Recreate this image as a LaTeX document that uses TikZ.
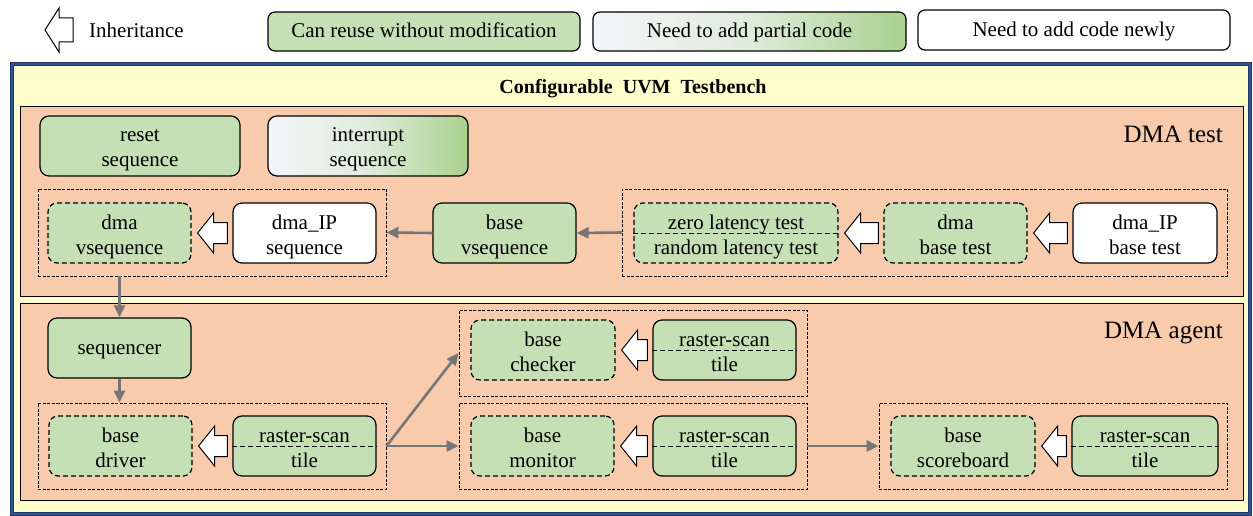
\documentclass[tikz,border=0pt]{standalone}
\usepackage{fontspec}
\setmainfont{Liberation Serif}
\usetikzlibrary{arrows.meta,calc}
\definecolor{cgreen}{HTML}{C5E0B4}
\definecolor{cgreendk}{HTML}{A9D18E}
\definecolor{cpale}{HTML}{F3F6FA}
\definecolor{cpeach}{HTML}{F8CBAD}
\definecolor{cyellow}{HTML}{FFFFCC}
\definecolor{cnavy}{HTML}{1F3864}
\definecolor{cblue}{HTML}{2F5597}
\definecolor{cgray}{HTML}{767676}
\begin{document}
\begin{tikzpicture}[x=1pt,y=-1pt,
  txt/.style={font=\fontsize{21}{25}\selectfont, align=center},
  box/.style={txt, rectangle, rounded corners=9pt, draw=black, line width=1.2pt, inner sep=0pt,
     minimum width=143pt, minimum height=60pt, text height=42pt, text depth=0pt},
  oneline/.style={text height=13pt, text depth=0pt},
  reuse/.style={box, fill=cgreen},
  partial/.style={box, left color=cpale, right color=cgreendk, middle color=cgreen!45!cpale},
  newcode/.style={box, fill=white},
  dbox/.style={box, fill=cgreen, dash pattern=on 5pt off 3pt},
  group/.style={rectangle, draw=black, line width=0.9pt, dash pattern=on 3pt off 1.5pt, inner sep=0pt},
  section/.style={rectangle, draw=black, line width=1pt, fill=cpeach, inner sep=0pt},
  conn/.style={draw=cgray, line width=2.6pt, -{Triangle[length=12pt,width=11pt]}, shorten >=0pt},
  hollow/.style={draw=black, line width=1pt, fill=white, line join=miter},
  divider/.style={draw=black, line width=1pt, dash pattern=on 5pt off 3pt},
  sectlabel/.style={font=\fontsize{25}{28}\selectfont, anchor=east, inner sep=0pt}
]
\useasboundingbox (0,0) rectangle (1253,516);
\newcommand\inh[2]{%
  \draw[hollow] ($(#2.east)+(6,0)$) -- ++(16,-20) -- ++(0,9.5) -- ($(#1.west)+(-5,-10.5)$)
    -- ++(0,21) -- ($(#2.east)+(22,10.5)$) -- ++(0,9.5) -- cycle;}

% legend
\coordinate (legtip) at (45,30);
\draw[hollow] (legtip) -- ++(14,-22) -- ++(0,10) -- ++(14,0) -- ++(0,24) -- ++(-14,0) -- ++(0,10) -- cycle;
\node[txt, anchor=west, inner sep=0pt] (leginh) at (89,30) {Inheritance};
\node[reuse, oneline, minimum width=312pt, minimum height=39pt, rounded corners=7pt] (leg1) at (424,31.5) {Can reuse without modification};
\node[partial, oneline, minimum width=313pt, minimum height=39pt, rounded corners=7pt] (leg2) at (749.5,31.5) {Need to add partial code};
\node[newcode, oneline, minimum width=312pt, minimum height=40pt, rounded corners=7pt] (leg3) at (1074,30) {Need to add code newly};

% outer testbench
\node[rectangle, draw=cnavy, double=cblue, double distance=1.2pt, line width=1.6pt, fill=cyellow,
      minimum width=1238pt, minimum height=450pt, inner sep=0pt] (tb) at (631,289) {};
\node[font=\fontsize{20}{24}\selectfont\bfseries] (title) at (633,89) {Configurable\ \ UVM\ \ Testbench};

% sections
\node[section, minimum width=1223pt, minimum height=189pt] (testsec) at (631.5,201.5) {};
\node[section, minimum width=1223pt, minimum height=197pt] (agentsec) at (631.5,401.5) {};
\node[sectlabel] (testlbl) at (1223,134) {DMA test};
\node[sectlabel] (agentlbl) at (1223,333) {DMA agent};

% groups
\node[group, minimum width=348pt, minimum height=87pt] (g1) at (212,232.5) {};
\node[group, minimum width=605pt, minimum height=87pt] (g2) at (924.5,232.5) {};
\node[group, minimum width=348pt, minimum height=86pt] (g3) at (212,446) {};
\node[group, minimum width=348pt, minimum height=86pt] (g4) at (633,353) {};
\node[group, minimum width=348pt, minimum height=86pt] (g5) at (633,446) {};
\node[group, minimum width=348pt, minimum height=86pt] (g6) at (1053,446) {};

% DMA test nodes
\node[reuse, minimum width=200pt] (reset) at (140,146) {reset\\sequence};
\node[partial, minimum width=200pt] (intr) at (368,146) {interrupt\\sequence};
\node[dbox] (dmavseq) at (119.5,233) {dma\\vsequence};
\node[newcode] (dmaipseq) at (304.5,233) {dma\_IP\\sequence};
\node[reuse] (basevseq) at (504.5,233) {base\\vsequence};
\node[dbox, minimum width=204pt] (lat) at (736,233) {zero latency test\\random latency test};
\draw[divider] (lat.west) -- (lat.east);
\node[dbox] (dmabase) at (955.5,233) {dma\\base test};
\node[newcode, minimum width=144pt] (dmaipbase) at (1145,233) {dma\_IP\\base test};

% DMA agent nodes
\node[reuse, oneline] (seqr) at (119.5,348) {sequencer};
\node[dbox] (driver) at (120.5,446) {base\\driver};
\node[reuse] (rs1) at (304.5,446) {raster-scan\\tile};
\draw[divider] (rs1.west) -- (rs1.east);
\node[dbox, minimum width=144pt] (checker) at (543,350) {base\\checker};
\node[reuse] (rs2) at (724.5,350) {raster-scan\\tile};
\draw[divider] (rs2.west) -- (rs2.east);
\node[dbox] (monitor) at (542.5,446) {base\\monitor};
\node[reuse] (rs3) at (724.5,446) {raster-scan\\tile};
\draw[divider] (rs3.west) -- (rs3.east);
\node[dbox, minimum width=144pt] (score) at (963,446) {base\\scoreboard};
\node[reuse, minimum width=146pt] (rs4) at (1145,446) {raster-scan\\tile};
\draw[divider] (rs4.west) -- (rs4.east);

% inheritance arrows
\inh{dmaipseq}{dmavseq}
\inh{dmabase}{lat}
\inh{dmaipbase}{dmabase}
\inh{rs1}{driver}
\inh{rs2}{checker}
\inh{rs3}{monitor}
\inh{rs4}{score}

% connectors
\draw[conn] (basevseq.west) -- (g1.east);
\draw[conn] (g2.west) -- (basevseq.east);
\draw[conn] (g1.south -| seqr) -- (seqr.north);
\draw[conn] (seqr.south) -- (g3.north -| seqr);
\coordinate (split) at (g3.east);
\draw[conn] (split) -- (g4.west);
\draw[conn] (split) -- (g5.west);
\draw[conn] (g5.east) -- (g6.west);
\end{tikzpicture}
\end{document}
